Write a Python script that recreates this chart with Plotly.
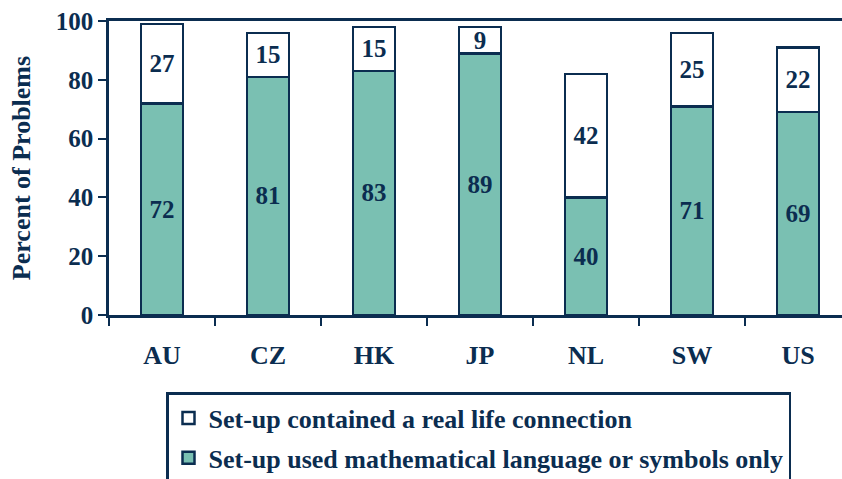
import plotly.graph_objects as go

categories = ["AU", "CZ", "HK", "JP", "NL", "SW", "US"]
math_only = [72, 81, 83, 89, 40, 71, 69]
real_life = [27, 15, 15, 9, 42, 25, 22]
y_ticks = [0, 20, 40, 60, 80, 100]

NAVY = "#0B2D50"
TEAL = "#7AC0B2"
FONT = "Liberation Serif"

def bold(size):
    return dict(family=FONT, size=size, color=NAVY, weight="bold")

fig = go.Figure()
fig.add_trace(go.Bar(
    x=categories, y=math_only, name="Set-up used mathematical language or symbols only",
    marker=dict(color=TEAL, line=dict(color=NAVY, width=2.5)),
    text=[str(v) for v in math_only], textposition="inside", insidetextanchor="middle",
    constraintext="none", textangle=0,
    textfont=bold(25), legendgroup="a", legendrank=2,
))
fig.add_trace(go.Bar(
    x=categories, y=real_life, name="Set-up contained a real life connection",
    marker=dict(color="white", line=dict(color=NAVY, width=2.5)),
    text=[str(v) for v in real_life], textposition="inside", insidetextanchor="middle",
    constraintext="none", textangle=0,
    textfont=bold(25), legendgroup="b", legendrank=1,
))

fig.update_layout(
    width=842, height=479,
    margin=dict(l=109, r=0, t=21, b=164),
    barmode="stack", bargap=0.6,
    plot_bgcolor="white", paper_bgcolor="white",
    font=bold(25),
    showlegend=True,
    legend=dict(
        x=(166 - 109) / 733, xanchor="left",
        yref="container", y=(479 - 392) / 479, yanchor="top",
        traceorder="grouped", tracegroupgap=3,
        bordercolor=NAVY, borderwidth=2.5,
        font=bold(26),
        itemwidth=30,
    ),
)
fig.update_xaxes(
    range=[-0.5, -0.5 + 733 / 106],
    showline=True, linecolor=NAVY, linewidth=2.5, mirror=True,
    ticks="outside", tickson="boundaries", ticklen=8, tickwidth=2, tickcolor=NAVY,
    tickfont=bold(26),
    ticklabelstandoff=15,
    showgrid=False, zeroline=False, automargin=False,
)
fig.update_yaxes(
    range=[0, 100], tickvals=y_ticks,
    showline=True, linecolor=NAVY, linewidth=2.5,
    ticks="outside", ticklen=8, tickwidth=2, tickcolor=NAVY,
    tickfont=bold(25),
    showgrid=False, zeroline=False, automargin=False,
    title=dict(text="Percent of Problems", font=bold(26), standoff=18),
)
fig.update_traces(cliponaxis=False)

fig.write_html("out.html")
